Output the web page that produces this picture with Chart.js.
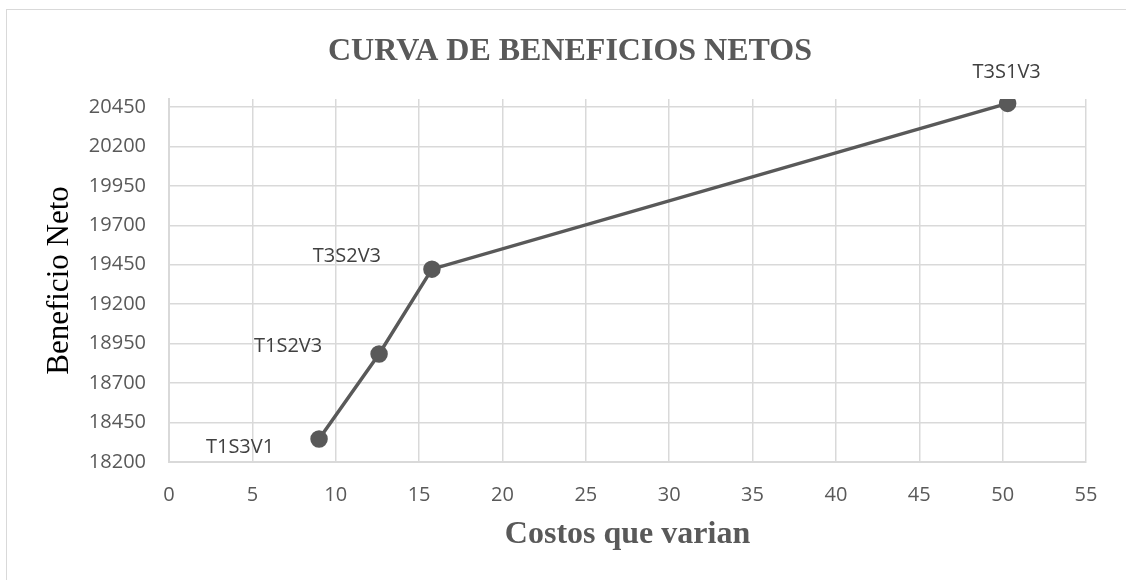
<!DOCTYPE html>
<html>
<head>
<meta charset="utf-8">
<script src="https://cdn.jsdelivr.net/npm/chart.js@4/dist/chart.umd.min.js"></script>
<style>
  html, body { margin: 0; padding: 0; background: #fff; overflow: hidden; }
  #wrap { position: relative; width: 1126px; height: 580px; overflow: hidden; }
  #frame { position: absolute; left: 6px; top: 9px; width: 1140px; height: 590px; border: 1px solid #d9d9d9; box-sizing: border-box; pointer-events: none; }
  canvas { position: absolute; left: 0; top: 0; }
</style>
</head>
<body>
<div id="wrap">
  <canvas id="chart" width="1126" height="580"></canvas>
  <div id="frame"></div>
</div>
<script>
const costos = [9.0, 12.6, 15.77, 50.3];
const beneficios = [18346, 18884, 19422, 20472];
const tratamientos = ['T1S3V1', 'T1S2V3', 'T3S2V3', 'T3S1V3'];
const xTicks = [0, 5, 10, 15, 20, 25, 30, 35, 40, 45, 50, 55];
const yTicks = [18200, 18450, 18700, 18950, 19200, 19450, 19700, 19950, 20200, 20450];

const grey = '#595959';

// where each label sits relative to its point, in px
const labelOffsets = [
  { dx: -79, dy: 8 },
  { dx: -91, dy: -8 },
  { dx: -85, dy: -13 },
  { dx: -1, dy: -31 }
];

const pointLabels = {
  id: 'pointLabels',
  afterDatasetsDraw(chart) {
    const ctx = chart.ctx;
    const meta = chart.getDatasetMeta(0);
    ctx.save();
    ctx.font = '20px "Open Sans"';
    ctx.fillStyle = '#404040';
    ctx.textAlign = 'center';
    ctx.textBaseline = 'middle';
    meta.data.forEach((pt, i) => {
      const o = labelOffsets[i];
      ctx.fillText(tratamientos[i], pt.x + o.dx, pt.y + o.dy);
    });
    ctx.restore();
  }
};

new Chart(document.getElementById('chart'), {
  type: 'scatter',
  data: {
    datasets: [{
      data: costos.map((c, i) => ({ x: c, y: beneficios[i] })),
      showLine: true,
      borderColor: grey,
      backgroundColor: grey,
      borderWidth: 3.5,
      pointRadius: 7,
      pointHoverRadius: 7
    }]
  },
  plugins: [pointLabels],
  options: {
    responsive: false,
    animation: false,
    // left padding larger than right so the title centre lands where Excel put it
    layout: { padding: { left: 54, right: 40, top: 14, bottom: 10 } },
    plugins: {
      legend: { display: false },
      tooltip: { enabled: false },
      title: {
        display: true,
        text: 'CURVA DE BENEFICIOS NETOS',
        color: grey,
        font: { family: '"Liberation Serif"', size: 32, weight: 'bold' },
        padding: { top: 19, bottom: 27.6 }
      }
    },
    scales: {
      x: {
        type: 'linear',
        min: 0,
        max: 55,
        afterBuildTicks: s => { s.ticks = xTicks.map(v => ({ value: v })); },
        afterFit: s => { s.height = 108; },
        ticks: { color: grey, font: { family: '"Open Sans"', size: 20 }, padding: 21 },
        grid: { color: '#d9d9d9', lineWidth: 1.5, drawTicks: false },
        border: { color: '#d9d9d9', width: 2 },
        title: {
          display: true,
          text: 'Costos que varian',
          color: grey,
          font: { family: '"Liberation Serif"', size: 32, weight: 'bold' },
          padding: { bottom: 16 }
        }
      },
      y: {
        type: 'linear',
        min: 18200,
        max: 20500,
        afterBuildTicks: s => { s.ticks = yTicks.map(v => ({ value: v })); },
        afterFit: s => { s.width = 115; },
        ticks: {
          color: grey,
          font: { family: '"Open Sans"', size: 20 },
          padding: 23,
          callback: v => String(v)
        },
        grid: { color: '#d9d9d9', lineWidth: 1.5, drawTicks: false },
        border: { color: '#d9d9d9', width: 2 },
        title: {
          display: true,
          text: 'Beneficio Neto',
          color: '#000',
          font: { family: '"Liberation Serif"', size: 31 },
          padding: { top: -13 }
        }
      }
    }
  }
});
</script>
</body>
</html>
